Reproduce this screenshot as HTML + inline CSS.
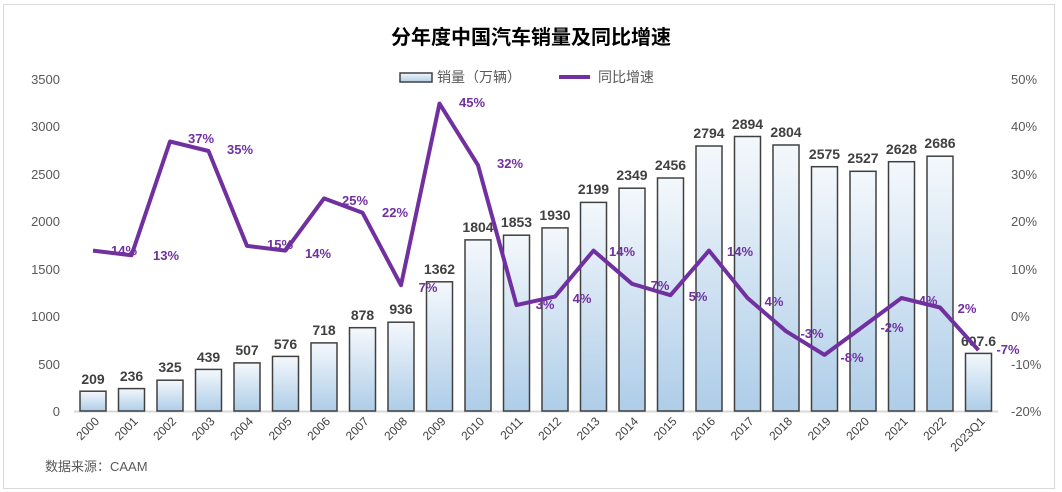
<!DOCTYPE html>
<html><head><meta charset="utf-8"><style>
html,body{margin:0;padding:0;background:#fff;width:1062px;height:492px;overflow:hidden}
svg{display:block;font-family:"Liberation Sans","Noto Sans CJK SC",sans-serif}
.ax{font-size:13px;fill:#595959}
.bl{font-size:14px;font-weight:bold;fill:#404040;text-anchor:middle}
.pl{font-size:13px;font-weight:bold;fill:#7030A0;text-anchor:middle}
.xl{font-size:12px;fill:#404040;text-anchor:end}
</style></head><body>
<svg width="1062" height="492" viewBox="0 0 1062 492">
<defs><linearGradient id="g" x1="0" y1="0" x2="0" y2="1"><stop offset="0" stop-color="#f4f8fc"/><stop offset="1" stop-color="#aecde8"/></linearGradient></defs>
<rect x="3.5" y="4.5" width="1051" height="484" fill="#fff" stroke="#d9d9d9"/>
<text x="531" y="44" text-anchor="middle" font-size="20" font-weight="bold" fill="#000">分年度中国汽车销量及同比增速</text>
<rect x="400" y="73" width="32" height="9" fill="url(#g)" stroke="#404040" stroke-width="1.5"/>
<text x="437" y="82" font-size="14" fill="#595959">销量（万辆）</text>
<line x1="559" y1="77" x2="590" y2="77" stroke="#7030A0" stroke-width="4"/>
<text x="598" y="82" font-size="14" fill="#595959">同比增速</text>
<g class="ax" text-anchor="end">
<text x="60" y="84">3500</text><text x="60" y="131">3000</text><text x="60" y="179">2500</text><text x="60" y="226">2000</text><text x="60" y="274">1500</text><text x="60" y="321">1000</text><text x="60" y="369">500</text><text x="60" y="416">0</text>
</g>
<g class="ax" text-anchor="start">
<text x="1011" y="84">50%</text><text x="1011" y="131">40%</text><text x="1011" y="179">30%</text><text x="1011" y="226">20%</text><text x="1011" y="274">10%</text><text x="1011" y="321">0%</text><text x="1011" y="369">-10%</text><text x="1011" y="416">-20%</text>
</g>
<line x1="74" y1="411.5" x2="998" y2="411.5" stroke="#d9d9d9" stroke-width="2"/>
<g fill="url(#g)" stroke="#404040" stroke-width="1.5">
<rect x="80" y="391.2" width="26" height="19.8"/><rect x="118.5" y="388.6" width="26" height="22.4"/><rect x="157" y="380.2" width="26" height="30.8"/><rect x="195.5" y="369.4" width="26" height="41.6"/><rect x="234" y="362.9" width="26" height="48.1"/><rect x="272.5" y="356.4" width="26" height="54.6"/><rect x="311" y="342.9" width="26" height="68.1"/><rect x="349.5" y="327.7" width="26" height="83.3"/><rect x="388" y="322.2" width="26" height="88.8"/><rect x="426.5" y="281.8" width="26" height="129.2"/><rect x="465" y="239.9" width="26" height="171.1"/><rect x="503.5" y="235.2" width="26" height="175.8"/><rect x="542" y="227.9" width="26" height="183.1"/><rect x="580.5" y="202.4" width="26" height="208.6"/><rect x="619" y="188.2" width="26" height="222.8"/><rect x="657.5" y="178" width="26" height="233"/><rect x="696" y="146" width="26" height="265"/><rect x="734.5" y="136.5" width="26" height="274.5"/><rect x="773" y="145" width="26" height="266"/><rect x="811.5" y="166.7" width="26" height="244.3"/><rect x="850" y="171.3" width="26" height="239.7"/><rect x="888.5" y="161.7" width="26" height="249.3"/><rect x="927" y="156.2" width="26" height="254.8"/><rect x="965.5" y="353.4" width="26" height="57.6"/>
</g>
<g class="bl">
<text x="93" y="384">209</text><text x="131.5" y="381">236</text><text x="170" y="372">325</text><text x="208.5" y="362">439</text><text x="247" y="355">507</text><text x="285.5" y="349">576</text><text x="324" y="335">718</text><text x="362.5" y="320">878</text><text x="401" y="314">936</text><text x="439.5" y="274">1362</text><text x="478" y="232">1804</text><text x="516.5" y="227">1853</text><text x="555" y="220">1930</text><text x="593.5" y="194">2199</text><text x="632" y="180">2349</text><text x="670.5" y="170">2456</text><text x="709" y="138">2794</text><text x="747.5" y="129">2894</text><text x="786" y="137">2804</text><text x="824.5" y="159">2575</text><text x="863" y="163">2527</text><text x="901.5" y="154">2628</text><text x="940" y="148">2686</text><text x="978.5" y="346">607.6</text>
</g>
<polyline fill="none" stroke="#7030A0" stroke-width="4" stroke-linejoin="round" points="93,250.6 131.5,255.3 170,141.5 208.5,151 247,245.9 285.5,250.6 324,198.4 362.5,212.7 401,285.2 439.5,103.6 478,165.2 516.5,305.1 555,296.6 593.5,250.6 632,283.8 670.5,295.2 709,250.6 747.5,298 786,331.2 824.5,354.9 863,326.5 901.5,298 940,307.5 978.5,350.2"/>
<g class="pl">
<text x="124" y="255">14%</text><text x="166" y="260">13%</text><text x="201" y="143">37%</text><text x="240" y="154">35%</text><text x="280" y="249">15%</text><text x="318" y="258">14%</text><text x="355" y="205">25%</text><text x="395" y="217">22%</text><text x="428" y="292">7%</text><text x="472" y="107">45%</text><text x="510" y="168">32%</text><text x="545" y="309">3%</text><text x="582" y="303">4%</text><text x="622" y="256">14%</text><text x="660" y="290">7%</text><text x="698" y="301">5%</text><text x="740" y="256">14%</text><text x="774" y="306">4%</text><text x="812" y="338">-3%</text><text x="852" y="362">-8%</text><text x="892" y="332">-2%</text><text x="928" y="305">4%</text><text x="967" y="313">2%</text><text x="1008" y="354">-7%</text>
</g>
<g class="xl">
<text transform="translate(100,422) rotate(-45)">2000</text><text transform="translate(138.5,422) rotate(-45)">2001</text><text transform="translate(177,422) rotate(-45)">2002</text><text transform="translate(215.5,422) rotate(-45)">2003</text><text transform="translate(254,422) rotate(-45)">2004</text><text transform="translate(292.5,422) rotate(-45)">2005</text><text transform="translate(331,422) rotate(-45)">2006</text><text transform="translate(369.5,422) rotate(-45)">2007</text><text transform="translate(408,422) rotate(-45)">2008</text><text transform="translate(446.5,422) rotate(-45)">2009</text><text transform="translate(485,422) rotate(-45)">2010</text><text transform="translate(523.5,422) rotate(-45)">2011</text><text transform="translate(562,422) rotate(-45)">2012</text><text transform="translate(600.5,422) rotate(-45)">2013</text><text transform="translate(639,422) rotate(-45)">2014</text><text transform="translate(677.5,422) rotate(-45)">2015</text><text transform="translate(716,422) rotate(-45)">2016</text><text transform="translate(754.5,422) rotate(-45)">2017</text><text transform="translate(793,422) rotate(-45)">2018</text><text transform="translate(831.5,422) rotate(-45)">2019</text><text transform="translate(870,422) rotate(-45)">2020</text><text transform="translate(908.5,422) rotate(-45)">2021</text><text transform="translate(947,422) rotate(-45)">2022</text><text transform="translate(985.5,422) rotate(-45)">2023Q1</text>
</g>
<text x="45" y="471" font-size="13" fill="#595959">数据来源：CAAM</text>
</svg>
</body></html>
